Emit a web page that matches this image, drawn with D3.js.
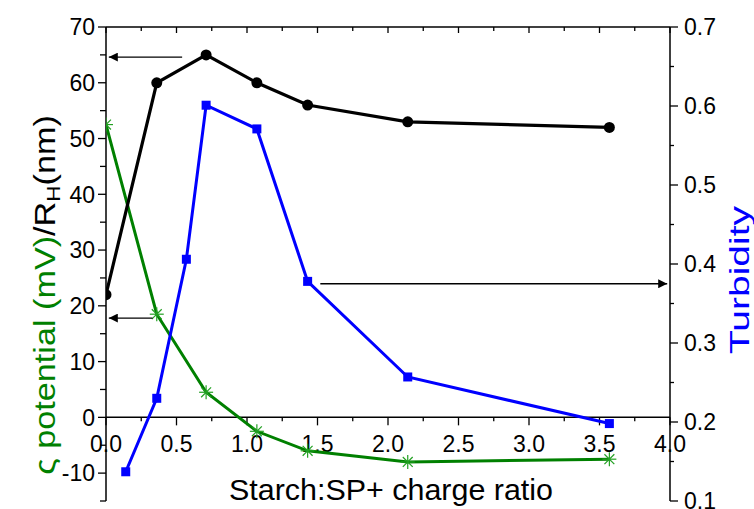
<!DOCTYPE html>
<head>
    <title>Zeta potential, RH and turbidity vs charge ratio</title>
    <meta charset="utf-8">
    <script src="https://cdn.jsdelivr.net/npm/d3@7"></script>
    <style>
        body { margin: 0; background: white; }
        text { font-family: "Liberation Sans", Arial, sans-serif; }
    </style>
</head>
<body>
    <div id="chart"></div>
    <script>
        // data
        var ratio = [0, 0.36, 0.71, 1.07, 1.43, 2.14, 3.57];
        var radius = [22, 60, 65, 60, 56, 53, 52];
        var zeta = [52.5, 18.5, 4.5, -2.5, -6, -8, -7.5];
        var turbRatio = [0.14, 0.36, 0.57, 0.71, 1.07, 1.43, 2.14, 3.57];
        var turbidity = [0.137, 0.23, 0.406, 0.601, 0.571, 0.378, 0.257, 0.198];

        var xTicks = [0, 0.5, 1, 1.5, 2, 2.5, 3, 3.5, 4];
        var leftTicks = [-10, 0, 10, 20, 30, 40, 50, 60, 70];
        var rightTicks = [0.1, 0.2, 0.3, 0.4, 0.5, 0.6, 0.7];

        // arrows pointing at the axis each curve belongs to
        var leftArrows = [{x1: 0.54, x2: 0.02, y: 64.6}, {x1: 0.33, x2: 0.02, y: 17.8}];
        var rightArrows = [{x1: 1.52, x2: 3.98, y: 0.375}];

        var svgWidth = 754, svgHeight = 509;
        var plotL = 106, plotR = 670, plotT = 27, plotB = 501;
        var tickFont = '23px';

        var svg = d3.select('#chart').append('svg')
            .attr('width', svgWidth)
            .attr('height', svgHeight);

        var x = d3.scaleLinear().domain([0, 4]).range([plotL, plotR]);
        var yL = d3.scaleLinear().domain([-15, 70]).range([plotB, plotT]);
        var yR = d3.scaleLinear().domain([0.1, 0.7]).range([plotB, plotT]);

        var defs = svg.append('defs');
        defs.append('clipPath').attr('id', 'plot-clip')
            .append('rect')
            .attr('x', plotL).attr('y', plotT)
            .attr('width', plotR - plotL).attr('height', plotB - plotT);
        defs.append('marker')
            .attr('id', 'arrow')
            .attr('viewBox', '0 0 10 10')
            .attr('refX', 10).attr('refY', 5)
            .attr('markerUnits', 'userSpaceOnUse')
            .attr('markerWidth', 13).attr('markerHeight', 9)
            .attr('orient', 'auto')
            .append('path')
            .attr('d', 'M0,0 L10,5 L0,10 Z')
            .attr('fill', 'black');

        // minor ticks (every 0.25 / 5 / 0.05)
        var xMinor = d3.range(0, 4.001, 0.25);
        var lMinor = d3.range(-15, 70.001, 5);
        var rMinor = d3.range(0.1, 0.7001, 0.05);

        var axes = svg.append('g').attr('class', 'axes');

        // bottom axis sits at y = 0 of the left scale
        var xAxisG = axes.append('g')
            .attr('transform', `translate(0,${yL(0)})`);
        xAxisG.append('line')
            .attr('x1', plotL).attr('x2', plotR)
            .attr('stroke', 'black').attr('stroke-width', 1.5);
        xAxisG.selectAll('.tk').data(xMinor).enter().append('line')
            .attr('x1', d => x(d)).attr('x2', d => x(d))
            .attr('y1', 0).attr('y2', (d, i) => i % 2 ? 4 : 8)
            .attr('stroke', 'black').attr('stroke-width', 1.3);
        xAxisG.selectAll('.lbl').data(xTicks).enter().append('text')
            .attr('x', d => x(d)).attr('y', 35)
            .attr('text-anchor', 'middle')
            .style('font-size', tickFont)
            .text(d => d.toFixed(1));

        // top frame line with inward ticks
        var topG = axes.append('g');
        topG.append('line')
            .attr('x1', plotL).attr('x2', plotR).attr('y1', plotT).attr('y2', plotT)
            .attr('stroke', 'black').attr('stroke-width', 1.5);
        topG.selectAll('line.tk').data(xMinor).enter().append('line')
            .attr('class', 'tk')
            .attr('x1', d => x(d)).attr('x2', d => x(d))
            .attr('y1', plotT).attr('y2', (d, i) => plotT + (i % 2 ? 4 : 6))
            .attr('stroke', 'black').attr('stroke-width', 1.3);

        // left axis
        var leftG = axes.append('g');
        leftG.append('line')
            .attr('x1', plotL).attr('x2', plotL).attr('y1', plotT).attr('y2', plotB)
            .attr('stroke', 'black').attr('stroke-width', 1.5);
        leftG.selectAll('line.tk').data(lMinor).enter().append('line')
            .attr('class', 'tk')
            .attr('x1', plotL).attr('x2', d => plotL - (d % 10 === 0 ? 8 : 6))
            .attr('y1', d => yL(d)).attr('y2', d => yL(d))
            .attr('stroke', 'black').attr('stroke-width', 1.3);
        leftG.selectAll('text').data(leftTicks).enter().append('text')
            .attr('x', plotL - 11).attr('y', d => yL(d))
            .attr('dy', '0.36em')
            .attr('text-anchor', 'end')
            .style('font-size', tickFont)
            .text(d => d);

        // right axis
        var rightG = axes.append('g');
        rightG.append('line')
            .attr('x1', plotR).attr('x2', plotR).attr('y1', plotT).attr('y2', plotB)
            .attr('stroke', 'black').attr('stroke-width', 1.5);
        rightG.selectAll('line.tk').data(rMinor).enter().append('line')
            .attr('class', 'tk')
            .attr('x1', plotR).attr('x2', (d, i) => plotR + (i % 2 ? 4 : 8))
            .attr('y1', d => yR(d)).attr('y2', d => yR(d))
            .attr('stroke', 'black').attr('stroke-width', 1.3);
        rightG.selectAll('text').data(rightTicks).enter().append('text')
            .attr('x', plotR + 14).attr('y', d => yR(d))
            .attr('dy', '0.36em')
            .style('font-size', tickFont)
            .text(d => d.toFixed(1));

        // axis titles
        svg.append('text')
            .attr('x', 391).attr('y', 500)
            .attr('text-anchor', 'middle')
            .attr('textLength', 324).attr('lengthAdjust', 'spacingAndGlyphs')
            .style('font-size', '29px')
            .text('Starch:SP+ charge ratio');

        var lt = svg.append('text')
            .attr('transform', 'translate(55,295) rotate(-90) scale(1.18,1)')
            .attr('text-anchor', 'middle')
            .style('font-size', '29px');
        lt.append('tspan').attr('fill', '#008000').text('ς potential (mV)');
        lt.append('tspan').text('/R');
        lt.append('tspan').attr('baseline-shift', '-25%').style('font-size', '19px').text('H');
        lt.append('tspan').attr('baseline-shift', '0').text('(nm)');

        svg.append('text')
            .attr('transform', 'translate(749,280) rotate(-90)')
            .attr('text-anchor', 'middle')
            .attr('fill', '#0000ff')
            .attr('textLength', 148).attr('lengthAdjust', 'spacingAndGlyphs')
            .style('font-size', '28px')
            .text('Turbidity');

        // series
        var plot = svg.append('g').attr('clip-path', 'url(#plot-clip)');

        var zetaPts = ratio.map((r, i) => [x(r), yL(zeta[i])]);
        var radPts = ratio.map((r, i) => [x(r), yL(radius[i])]);
        var turbPts = turbRatio.map((r, i) => [x(r), yR(turbidity[i])]);

        var line = d3.line();

        plot.append('path').attr('d', line(zetaPts))
            .attr('fill', 'none').attr('stroke', '#008000').attr('stroke-width', 3);
        var star = plot.selectAll('.star').data(zetaPts).enter().append('g')
            .attr('transform', d => `translate(${d[0]},${d[1]})`);
        [0, 45, 90, 135].forEach(a => {
            star.append('line')
                .attr('x1', -7).attr('x2', 7)
                .attr('transform', `rotate(${a})`)
                .attr('stroke', '#22a022').attr('stroke-width', 1.2);
        });

        plot.append('path').attr('d', line(radPts))
            .attr('fill', 'none').attr('stroke', 'black').attr('stroke-width', 3.2);
        plot.selectAll('.circ').data(radPts).enter().append('circle')
            .attr('cx', d => d[0]).attr('cy', d => d[1]).attr('r', 5.5)
            .attr('fill', 'black');

        plot.append('path').attr('d', line(turbPts))
            .attr('fill', 'none').attr('stroke', '#0000ff').attr('stroke-width', 3);
        plot.selectAll('.sq').data(turbPts).enter().append('rect')
            .attr('x', d => d[0] - 4.5).attr('y', d => d[1] - 4.5)
            .attr('width', 9).attr('height', 9)
            .attr('fill', '#0000ff');

        // arrows
        var arrows = svg.append('g');
        arrows.selectAll('.al').data(leftArrows).enter().append('line')
            .attr('x1', d => x(d.x1)).attr('x2', d => x(d.x2))
            .attr('y1', d => yL(d.y)).attr('y2', d => yL(d.y))
            .attr('stroke', 'black').attr('stroke-width', 1.3)
            .attr('marker-end', 'url(#arrow)');
        arrows.selectAll('.ar').data(rightArrows).enter().append('line')
            .attr('x1', d => x(d.x1)).attr('x2', d => x(d.x2))
            .attr('y1', d => yR(d.y)).attr('y2', d => yR(d.y))
            .attr('stroke', 'black').attr('stroke-width', 1.3)
            .attr('marker-end', 'url(#arrow)');
    </script>
</body>
</html>
